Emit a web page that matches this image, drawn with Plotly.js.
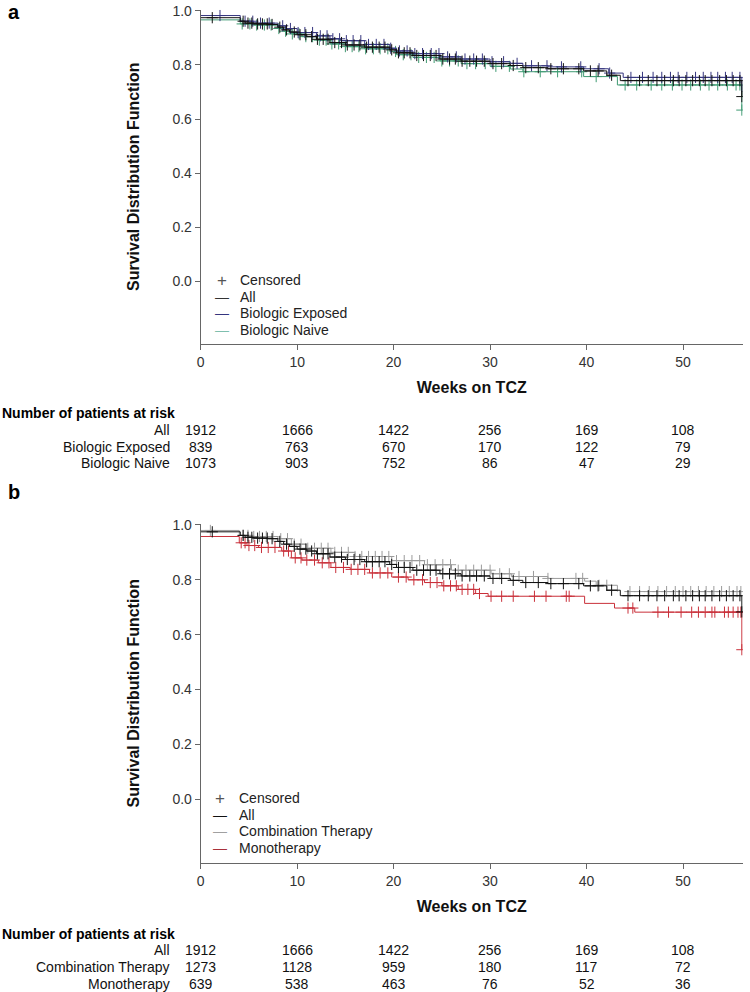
<!DOCTYPE html>
<html>
<head>
<meta charset="utf-8">
<script src="https://cdn.plot.ly/plotly-3.0.1.min.js"></script>
<style>
  html, body { margin: 0; padding: 0; background: #fff; }
  #chart { width: 750px; height: 992px; }
</style>
</head>
<body>
<div id="chart"></div>
<script>
// Kaplan-Meier step curves (weeks, survival)
const allWeeks = [0, 4.1, 4.6, 5.5, 7.0, 8.0, 8.6, 9.2, 10.0, 11.0, 12.0, 13.4, 15.0, 17.0, 19.6, 20.3, 22.0, 24.8, 27.0, 30.0, 32.1, 33.4, 36.0, 39.7, 42.1, 43.5, 56.1];
const allSurv = [0.975, 0.962, 0.955, 0.952, 0.950, 0.940, 0.930, 0.922, 0.912, 0.905, 0.895, 0.883, 0.874, 0.866, 0.856, 0.845, 0.835, 0.822, 0.814, 0.805, 0.798, 0.790, 0.786, 0.778, 0.762, 0.742, 0.683];

const expWeeks = [0, 4.1, 5.5, 8.0, 8.8, 10.0, 12.0, 13.4, 14.5, 17.0, 19.6, 20.3, 22.0, 24.8, 27.0, 30.0, 32.1, 33.4, 36.0, 39.7, 42.3, 43.8, 56.1];
const expSurv = [0.983, 0.962, 0.955, 0.945, 0.935, 0.920, 0.908, 0.897, 0.890, 0.876, 0.862, 0.852, 0.842, 0.830, 0.822, 0.812, 0.806, 0.797, 0.793, 0.786, 0.770, 0.754, 0.700];

const naiWeeks = [0, 4.1, 5.5, 8.0, 8.6, 9.4, 10.5, 12.0, 13.4, 15.0, 17.0, 19.6, 20.3, 22.0, 24.8, 27.0, 30.0, 32.1, 33.4, 39.7, 43.2, 56.1];
const naiSurv = [0.967, 0.952, 0.948, 0.935, 0.925, 0.915, 0.905, 0.892, 0.878, 0.868, 0.860, 0.850, 0.838, 0.828, 0.815, 0.805, 0.795, 0.785, 0.775, 0.757, 0.726, 0.633];

const comWeeks = [0, 4.0, 5.5, 8.0, 9.4, 11.0, 13.5, 16.0, 19.8, 23.2, 26.0, 30.1, 32.2, 36.0, 39.8, 41.0, 43.2];
const comSurv = [0.980, 0.962, 0.958, 0.950, 0.930, 0.915, 0.900, 0.885, 0.870, 0.855, 0.835, 0.822, 0.812, 0.805, 0.795, 0.780, 0.757];

const monWeeks = [0, 4.0, 4.8, 6.0, 8.4, 9.4, 10.5, 12.2, 13.5, 15.5, 17.5, 19.8, 21.5, 23.2, 25.0, 26.7, 28.5, 29.8, 39.8, 42.9, 45.0, 56.1];
const monSurv = [0.958, 0.935, 0.925, 0.918, 0.905, 0.880, 0.872, 0.862, 0.845, 0.838, 0.825, 0.810, 0.800, 0.790, 0.778, 0.765, 0.750, 0.740, 0.714, 0.697, 0.682, 0.545];

// censoring times (weeks)
const allCens = [1.2, 4.4, 4.9, 5.3, 5.9, 6.4, 6.9, 7.4, 8.2, 8.9, 9.7, 10.3, 10.9, 11.5, 12.1, 12.7, 13.2, 13.9, 14.6, 15.2, 15.9, 16.5, 17.2, 17.8, 18.5, 19.1, 19.8, 20.5, 21.1, 21.7, 22.4, 23.1, 23.8, 24.4, 25.1, 25.8, 26.4, 27.1, 27.9, 28.6, 29.4, 30.3, 31.2, 32.4, 33.7, 35.0, 36.3, 37.6, 39.2, 40.4, 41.2, 42.6, 44.3, 45.5, 46.4, 47.3, 48.1, 49.0, 49.6, 50.3, 51.0, 51.7, 52.3, 53.0, 53.8, 54.5, 55.2, 55.9, 56.1];
const expCens = [2.0, 4.6, 5.4, 6.2, 7.1, 8.5, 9.3, 10.1, 10.8, 11.6, 12.4, 13.1, 13.7, 14.4, 15.1, 15.8, 16.6, 17.4, 18.2, 19.0, 19.7, 20.6, 21.4, 22.2, 23.0, 23.9, 24.7, 25.6, 26.5, 27.4, 28.3, 29.2, 30.2, 31.4, 32.8, 34.3, 35.9, 37.4, 39.4, 41.3, 42.4, 44.6, 45.8, 46.9, 47.8, 48.7, 49.5, 50.4, 51.3, 52.1, 52.9, 53.6, 54.4, 55.1, 55.9];
const naiCens = [4.3, 5.1, 5.8, 6.6, 7.3, 8.1, 8.8, 9.5, 10.2, 10.9, 11.6, 12.3, 13.0, 13.6, 14.3, 15.0, 15.7, 16.4, 17.1, 17.9, 18.6, 19.4, 20.2, 21.0, 21.8, 22.6, 23.4, 24.2, 25.0, 25.8, 26.7, 27.6, 28.5, 29.5, 30.6, 32.0, 33.5, 35.2, 37.0, 39.5, 41.0, 44.0, 45.2, 46.7, 47.8, 48.9, 49.9, 50.8, 51.8, 52.7, 53.6, 54.6, 55.5, 55.9, 56.1];
const comCens = [1.0, 4.4, 4.9, 5.5, 6.1, 6.8, 7.5, 8.3, 9.0, 9.7, 10.4, 11.1, 11.8, 12.5, 13.2, 13.9, 14.6, 15.3, 16.0, 16.7, 17.4, 18.1, 18.8, 19.5, 20.3, 21.1, 21.9, 22.7, 23.5, 24.3, 25.1, 25.9, 26.7, 27.5, 28.3, 29.1, 30.0, 31.0, 32.0, 33.0, 34.5, 36.0, 38.9, 39.6, 41.3, 42.1, 44.5, 45.5, 46.5, 47.4, 48.3, 49.2, 50.0, 50.8, 51.6, 52.4, 53.2, 54.0, 54.8, 55.6, 56.0];
const monCens = [4.2, 4.6, 5.0, 5.6, 6.3, 7.0, 7.7, 8.6, 9.1, 9.8, 10.4, 11.0, 11.8, 12.6, 13.3, 14.0, 14.8, 15.6, 16.3, 17.0, 17.8, 18.6, 19.4, 20.5, 21.3, 22.1, 23.0, 23.8, 24.5, 25.2, 25.9, 26.5, 27.1, 27.7, 28.3, 28.9, 30.1, 31.2, 32.4, 34.6, 35.8, 37.9, 38.2, 44.3, 44.8, 47.4, 48.5, 49.8, 50.9, 51.6, 52.3, 53.0, 53.3, 54.3, 54.7, 55.2, 55.7, 56.0, 56.1];

// number at risk table
const riskWeeks = [0, 10, 20, 30, 40, 50];
const riskLabelsA = ['All', 'Biologic Exposed', 'Biologic Naive'];
const riskA = [
  [1912, 1666, 1422, 256, 169, 108],
  [839, 763, 670, 170, 122, 79],
  [1073, 903, 752, 86, 47, 29],
];
const riskLabelsB = ['All', 'Combination Therapy', 'Monotherapy'];
const riskB = [
  [1912, 1666, 1422, 256, 169, 108],
  [1273, 1128, 959, 180, 117, 72],
  [639, 538, 463, 76, 52, 36],
];

const FONT = 'Liberation Sans, Arial, sans-serif';
const H = 992, W = 750;
const py = (p) => 1 - p / H;
const px = (p) => p / W;

function stepAt(t, ts, ss) {
  let v = ss[0];
  for (let i = 0; i < ts.length; i++) if (ts[i] <= t) v = ss[i];
  return v;
}

function curve(ts, ss, name, color, xa, ya) {
  return {
    type: 'scatter', mode: 'lines', x: ts, y: ss, name,
    line: { shape: 'hv', color, width: 1 },
    xaxis: xa, yaxis: ya, hoverinfo: 'skip', showlegend: false,
  };
}

function censor(times, ts, ss, color, xa, ya) {
  return {
    type: 'scatter', mode: 'markers', x: times, y: times.map((t) => stepAt(t, ts, ss)),
    marker: { symbol: 'cross-thin', size: 8, line: { width: 1, color } },
    xaxis: xa, yaxis: ya, showlegend: false, hoverinfo: 'skip',
  };
}

const C = { all: '#111111', exp: '#35357e', nai: '#3f9a72', com: '#9b9b9b', mon: '#c9303a' };

const data = [
  curve(naiWeeks, naiSurv, 'Biologic Naive', C.nai, 'x', 'y'),
  censor(naiCens, naiWeeks, naiSurv, C.nai, 'x', 'y'),
  curve(expWeeks, expSurv, 'Biologic Exposed', C.exp, 'x', 'y'),
  censor(expCens, expWeeks, expSurv, C.exp, 'x', 'y'),
  curve(allWeeks, allSurv, 'All', C.all, 'x', 'y'),
  censor(allCens, allWeeks, allSurv, C.all, 'x', 'y'),

  curve(comWeeks, comSurv, 'Combination Therapy', C.com, 'x2', 'y2'),
  censor(comCens, comWeeks, comSurv, C.com, 'x2', 'y2'),
  curve(monWeeks, monSurv, 'Monotherapy', C.mon, 'x2', 'y2'),
  censor(monCens, monWeeks, monSurv, C.mon, 'x2', 'y2'),
  curve(allWeeks, allSurv, 'All', C.all, 'x2', 'y2'),
  censor(allCens, allWeeks, allSurv, C.all, 'x2', 'y2'),
];

const xDomain = [px(200.7), px(742.8)];
function xAxis(anchor) {
  return {
    domain: xDomain, anchor, range: [0, 56.2], tickvals: riskWeeks,
    ticks: 'outside', ticklen: 5, tickcolor: '#666', showline: true, linecolor: '#666', linewidth: 1,
    showgrid: false, zeroline: false, tickfont: { family: FONT, size: 14, color: '#333' },
    title: { text: '<b>Weeks on TCZ</b>', font: { family: FONT, size: 16, color: '#111' }, standoff: 13 },
  };
}
function yAxis(anchor, domain) {
  return {
    domain, anchor, range: [-0.233, 1.005], tickvals: [0, 0.2, 0.4, 0.6, 0.8, 1.0], tickformat: '.1f',
    ticks: 'outside', ticklen: 5, tickcolor: '#666', showline: true, linecolor: '#666', linewidth: 1,
    showgrid: false, zeroline: false, tickfont: { family: FONT, size: 14, color: '#333' },
    title: { text: '<b>Survival Distribution Function</b>', font: { family: FONT, size: 16, color: '#111' }, standoff: 28 },
  };
}

const annotations = [];
function note(text, x, y, xanchor, size, color, xref) {
  annotations.push({ text, xref: xref || 'paper', yref: 'paper', x, y: py(y), xanchor, yanchor: 'middle',
    showarrow: false, font: { family: FONT, size, color } });
}
function riskTable(labels, rows, xref, headY, rowYs) {
  note('<b>Number of patients at risk</b>', 0, headY, 'left', 14, '#000');
  rows.forEach((row, r) => {
    note(labels[r], px(172), rowYs[r], 'right', 14, '#111');
    row.forEach((n, i) => note(String(n), riskWeeks[i], rowYs[r], 'center', 14, '#111', xref));
  });
}
// legend drawn as text keys: '+' for censored, a dash for each curve
function legendBox(names, colors, keyX, textX, rowYs) {
  note('+', px(keyX), rowYs[0], 'center', 17, '#555');
  note('Censored', px(textX), rowYs[0], 'left', 14, '#222');
  names.forEach((n, i) => {
    note('\u2014', px(keyX), rowYs[i + 1], 'center', 14, colors[i]);
    note(n, px(textX), rowYs[i + 1], 'left', 14, '#222');
  });
}
note('<b>a</b>', px(6), 12, 'left', 20, '#000');
note('<b>b</b>', px(6), 492, 'left', 20, '#000');
legendBox(['All', 'Biologic Exposed', 'Biologic Naive'], ['#333', C.exp, '#7fbfae'], 222, 238, [280, 297, 313, 330]);
legendBox(['All', 'Combination Therapy', 'Monotherapy'], ['#111', '#a0a0a0', '#a8303a'], 220, 237, [798, 815, 831, 848]);
riskTable(riskLabelsA, riskA, 'x', 413, [430, 447, 463]);
riskTable(riskLabelsB, riskB, 'x2', 934, [950, 967, 984]);

const layout = {
  width: W, height: H, autosize: false,
  margin: { l: 0, r: 0, t: 0, b: 0 },
  paper_bgcolor: '#fff', plot_bgcolor: '#fff',
  font: { family: FONT },
  showlegend: false,
  xaxis: xAxis('y'),
  yaxis: yAxis('x', [py(344), py(9.6)]),
  xaxis2: xAxis('y2'),
  yaxis2: yAxis('x2', [py(863), py(523.6)]),
  annotations,
};

Plotly.newPlot('chart', data, layout, { displayModeBar: false, staticPlot: true });
</script>
</body>
</html>
